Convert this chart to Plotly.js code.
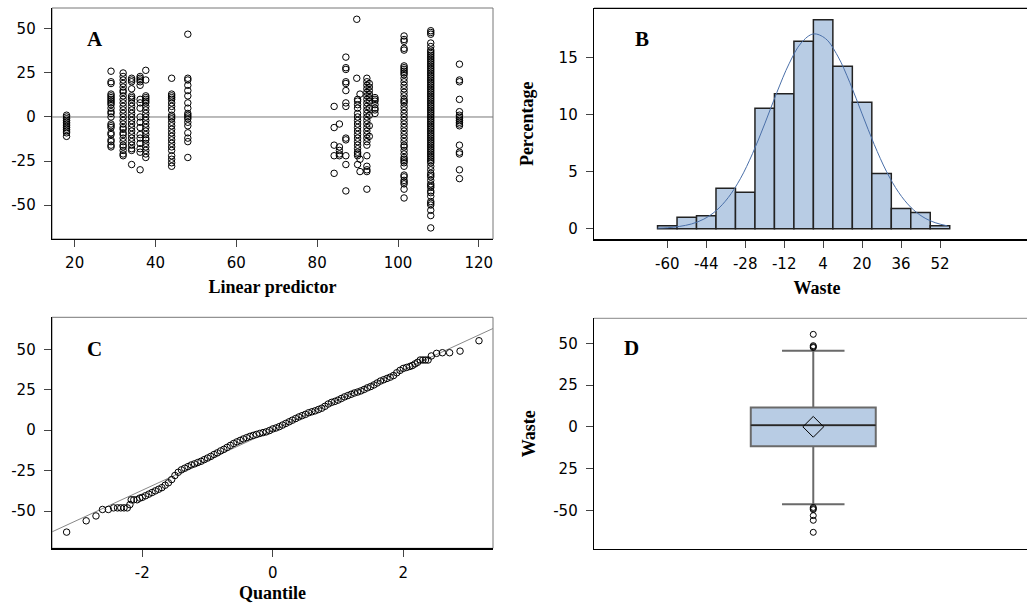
<!DOCTYPE html>
<html>
<head>
<meta charset="utf-8">
<script src="https://cdn.plot.ly/plotly-3.0.1.min.js"></script>
<style>
html,body{margin:0;padding:0;overflow:hidden;background:#fff;width:1027px;height:603px;}
#chart{width:1040px;height:603px;}
</style>
</head>
<body>
<div id="chart"></div>
<script>
// ---------- Panel A: residuals vs linear predictor ----------
const aColumnX = [18, 29, 32, 34.1, 36.2, 37.6, 44, 48, 84.2, 85.5, 87.1, 89.8, 90, 90.6, 92.3, 92.9, 94.3, 101.5, 108.1, 115.2];
const aColumnY = [
  [1, 0, -1, -2, -3, -4, -5, -6, -7, -8, -9, -11],
  [26, 20, 19, 13, 12, 11, 10, 9, 8, 7, 5, 3, 2, 0, -4, -5, -6, -9, -10, -13, -14, -16, -17],
  [25, 23, 21, 19, 17, 15, 14, 12, 10, 8, 6, 4, 2, 0, -2, -4, -6, -7, -9, -10, -12, -14, -16, -17, -19, -21, -22],
  [22, 21, 20, 16, 12, 11, 10, 8, 6, 4, 2, 0, -2, -4, -6, -8, -10, -12, -14, -16, -18, -19, -27],
  [23, 22, 21, 20, 18, 10, 8, 5, 0, -3, -6, -10, -12, -15, -18, -20, -30],
  [26.5, 21, 12, 11, 10, 9, 8, 6, 4, 2, 0, -2, -4, -6, -8, -10, -12, -13, -15, -17, -19, -21, -23],
  [22, 13, 12, 11, 10, 8, 6, 4, 1, 0, -1, -3, -5, -7, -9, -11, -13, -15, -17, -19, -22, -24, -26, -28],
  [47, 22, 21, 18, 15, 12, 8, 5, 2, 1, 0, -1, -3, -5, -9, -12, -14, -23],
  [6, -6, -16, -22, -32],
  [-4, -17, -19, -21, -22],
  [34, 28, 27, 20, 19, 15, 8, 6, -12, -13, -22, -27, -42],
  [55.5, 22],
  [10, 9, 7, 5, 2, 0, -2, -4, -6, -8, -10, -12, -14, -16, -18, -20, -21, -22, -27],
  [13, -24, -31],
  [22, 20, 18, 16, 14, 12, 10, 8, 6, 4, 2, 0, -2, -4, -6, -8, -10, -12, -14, -16, -22, -28, -30, -31, -41],
  [19, 17, 15, 13, 11, 9, 5, 1, -5, -11],
  [11, 10, 9, 7, 5, 4, 2],
  [46, 44, 43, 39, 38, 29, 28, 27, 26, 25, 24, 22, 20, 18, 16, 14, 12, 10, 9, 8, 6, 4, 2, 0, -2, -4, -6, -8, -10, -12, -14, -16, -17, -19, -21, -23, -24, -25, -26, -28, -33, -34, -36, -37, -38, -41, -46],
  [49, 48, 47, 42, 40, 38, 37, 36, 35, 34, 33, 32, 31, 30, 29, 28, 27, 26, 25, 24, 23, 22, 21, 20, 19, 18, 17, 16, 15, 14, 13, 12, 11, 10, 9, 8, 7, 6, 5, 4, 3, 2, 1, 0, -1, -2, -3, -4, -5, -6, -7, -8, -9, -10, -11, -12, -13, -14, -15, -16, -17, -18, -19, -20, -21, -22, -23, -24, -25, -26, -28, -30, -32, -33, -34, -36, -38, -39, -40, -42, -43, -45, -48, -49, -50, -53, -56, -63],
  [30, 21, 20, 10, 3, 1, 0, -1, -2, -3, -4, -5, -16, -20, -21, -30, -35]
];
const aXTicks = [20, 40, 60, 80, 100, 120];
const yTicks50 = [50, 25, 0, -25, -50];

// ---------- Panel B: histogram of waste (percentage) ----------
const histMid = [-60, -52, -44, -36, -28, -20, -12, -4, 4, 12, 20, 28, 36, 44, 52];
const histPct = [0.26, 1.0, 1.14, 3.54, 3.19, 10.56, 11.84, 16.43, 18.33, 14.24, 11.08, 4.85, 1.78, 1.43, 0.26];
const histBinWidth = 8;
const histTicks = [-60, -44, -28, -12, 4, 20, 36, 52];
const pctTicks = [0, 5, 10, 15];
const curveX = [-64, -60, -55, -50, -45, -40, -35, -30, -25, -20, -15, -10, -5, 0, 5, 10, 15, 20, 25, 30, 35, 40, 45, 50, 55];
const curveY = [0.05, 0.08, 0.2, 0.42, 0.84, 1.57, 2.72, 4.38, 6.58, 9.19, 11.95, 14.46, 16.3, 17.08, 16.67, 15.14, 12.8, 10.07, 7.38, 5.03, 3.19, 1.88, 1.03, 0.53, 0.25];

// ---------- Panel C: normal QQ plot ----------
const qqX = [-3.16, -2.86, -2.71, -2.61, -2.52, -2.44, -2.38, -2.33, -2.28, -2.23, -2.19, -2.17, -2.13, -2.08, -2.04,
  -2.00, -1.95, -1.90, -1.85, -1.80, -1.75, -1.70, -1.65, -1.60, -1.55, -1.50, -1.45, -1.40, -1.35, -1.30, -1.25, -1.20, -1.15, -1.10, -1.05,
  -1.00, -0.95, -0.90, -0.85, -0.80, -0.75, -0.70, -0.65, -0.60, -0.55, -0.50, -0.45, -0.40, -0.35, -0.30, -0.25, -0.20, -0.15, -0.10, -0.05,
  0.00, 0.05, 0.10, 0.15, 0.20, 0.25, 0.30, 0.35, 0.40, 0.45, 0.50, 0.55, 0.60, 0.65, 0.70, 0.75, 0.80, 0.85, 0.90, 0.95,
  1.00, 1.05, 1.10, 1.15, 1.20, 1.25, 1.30, 1.35, 1.40, 1.45, 1.50, 1.55, 1.60, 1.65, 1.70, 1.75, 1.80, 1.85, 1.90, 1.95,
  2.00, 2.05, 2.10, 2.14, 2.18, 2.22, 2.26, 2.30, 2.34, 2.38, 2.43, 2.51, 2.60, 2.71, 2.87, 3.16];
const qqY = [-63, -56, -53, -49, -49, -48, -48, -48, -48, -48, -46, -43, -43, -43, -42,
  -41.5, -40.5, -39.5, -38.5, -37.5, -36.5, -35.5, -34, -32.5, -30.5, -28, -26, -24.5, -23.5, -22.5, -21.5, -20.8, -20, -19.2, -18.2,
  -17.2, -16.2, -15, -14, -12.8, -11.8, -10.6, -9.4, -8.2, -7.2, -6.3, -5.4, -4.6, -3.8, -3.2, -2.6, -2, -1.5, -1, -0.2,
  0.8, 1.4, 2.2, 3.2, 4.2, 5.2, 6.2, 7.2, 8.2, 9, 9.8, 10.8, 11.4, 12, 12.8, 13.6, 14.8, 16.2, 17.2, 17.8,
  18.6, 19.6, 20.6, 21.4, 22.2, 23, 23.6, 24.3, 25.2, 26.2, 27, 28, 29.2, 30.4, 31.2, 32, 32.8, 33.8, 35.5, 37,
  38.2, 38.8, 39.4, 40, 41, 42, 43.4, 43.4, 43.4, 43.4, 45.9, 47.5, 47.9, 47.9, 48.9, 55.3];
const qqIntercept = 0.1;
const qqSlope = 18.6;
const qqRange = [-3.384, 3.375];
const qqTicks = [-2, 0, 2];

// ---------- Panel D: box plot ----------
const boxQ1 = -11.6, boxMedian = 1.0, boxQ3 = 11.6;
const boxLowerWhisker = -46.4, boxUpperWhisker = 45.6;
const boxMean = 0;
const boxOutliers = [55.4, 48.6, 48.0, 47.5, -48.3, -49.0, -49.6, -53.2, -56.0, -63.2];
const boxDTicks = [50, 25, 0, -25, -50];
const boxDTickText = ["50", "25", "0", "25", "-50"];
const boxWidth = 0.57;

// ---------- build traces ----------
const aX = [], aY = [];
aColumnX.forEach((cx, i) => aColumnY[i].forEach(v => { aX.push(cx); aY.push(v); }));

const openCircle = {symbol: 'circle-open', size: 6.5, color: '#000', line: {width: 1, color: '#000'}};

const traces = [
  {type: 'scatter', mode: 'markers', x: aX, y: aY, xaxis: 'x', yaxis: 'y', marker: openCircle},
  {type: 'bar', x: histMid, y: histPct, width: histBinWidth, xaxis: 'x2', yaxis: 'y2',
   marker: {color: '#b8cce4', line: {color: '#222', width: 1.5}}},
  {type: 'scatter', mode: 'lines', x: curveX, y: curveY, xaxis: 'x2', yaxis: 'y2',
   line: {color: '#4a6fa8', width: 1, shape: 'spline'}},
  {type: 'scatter', mode: 'lines', x: qqRange, y: qqRange.map(q => qqIntercept + qqSlope * q), xaxis: 'x3', yaxis: 'y3',
   line: {color: '#888', width: 1}},
  {type: 'scatter', mode: 'markers', x: qqX, y: qqY, xaxis: 'x3', yaxis: 'y3', marker: openCircle},
  {type: 'box', x: [0], q1: [boxQ1], median: [boxMedian], q3: [boxQ3],
   lowerfence: [boxLowerWhisker], upperfence: [boxUpperWhisker], width: boxWidth,
   xaxis: 'x4', yaxis: 'y4', boxpoints: false, whiskerwidth: 0.5,
   fillcolor: '#b8cce4', line: {color: '#6a6a6a', width: 2}},
  {type: 'scatter', mode: 'lines', x: [-boxWidth / 2, boxWidth / 2], y: [boxMedian, boxMedian], xaxis: 'x4', yaxis: 'y4',
   line: {color: '#000', width: 1}},
  {type: 'scatter', mode: 'markers', x: boxOutliers.map(() => 0), y: boxOutliers, xaxis: 'x4', yaxis: 'y4',
   marker: {symbol: 'circle-open', size: 6, color: '#000', line: {width: 1, color: '#000'}}},
  {type: 'scatter', mode: 'markers', x: [0], y: [boxMean], xaxis: 'x4', yaxis: 'y4',
   marker: {symbol: 'diamond-open', size: 16, color: '#000', line: {width: 1, color: '#000'}}}
];

const tickFont = {family: 'DejaVu Sans, Liberation Sans, Arial, sans-serif', size: 15, color: '#000'};
const titleFont = {family: 'Liberation Serif, Times New Roman, serif', size: 18, color: '#000', weight: 'bold'};
const letterFont = {family: 'Liberation Serif, Times New Roman, serif', size: 21, color: '#000', weight: 'bold'};

const axBase = {showgrid: false, zeroline: false, showline: true, linecolor: '#000', linewidth: 1.3,
  ticks: 'outside', ticklen: 7, tickcolor: '#444', tickwidth: 1, tickfont: tickFont, fixedrange: true};
const lab = v => String(v); // plain hyphen-minus labels, as in the original

// The figure is slightly wider than the window so the right-hand panels run off the edge, as in the original.
const W = 1040, H = 603;
const px = v => v / W, py = v => 1 - v / H;

const layout = {
  width: W, height: H, margin: {l: 0, r: 0, t: 0, b: 0}, showlegend: false,
  paper_bgcolor: '#fff', plot_bgcolor: 'rgba(0,0,0,0)', bargap: 0,
  xaxis: Object.assign({}, axBase, {domain: [px(52), px(493)], range: [14.4, 123.5], anchor: 'y',
    tickvals: aXTicks, ticktext: aXTicks.map(lab), ticklabelstandoff: 3,
    title: {text: 'Linear predictor', font: titleFont, standoff: 9}}),
  yaxis: Object.assign({}, axBase, {domain: [py(239), py(8)], range: [-69.3, 61.9], anchor: 'x',
    tickvals: yTicks50, ticktext: yTicks50.map(lab), ticklabelstandoff: 5}),
  xaxis2: Object.assign({}, axBase, {domain: [px(594), 1], range: [-90.1, 93.07], anchor: 'y2',
    tickvals: histTicks, ticktext: histTicks.map(lab), ticklabelstandoff: 3,
    title: {text: 'Waste', font: titleFont, standoff: 9}}),
  yaxis2: Object.assign({}, axBase, {domain: [py(239.3), py(8.3)], range: [-0.93, 19.33], anchor: 'x2',
    tickvals: pctTicks, ticktext: pctTicks.map(lab), ticklabelstandoff: 5,
    title: {text: 'Percentage', font: titleFont, standoff: 20}}),
  xaxis3: Object.assign({}, axBase, {domain: [px(52), px(493)], range: qqRange, anchor: 'y3',
    tickvals: qqTicks, ticktext: qqTicks.map(lab), ticklabelstandoff: 3,
    title: {text: 'Quantile', font: titleFont, standoff: 9}}),
  yaxis3: Object.assign({}, axBase, {domain: [py(548.3), py(317.3)], range: [-73.0, 69.8], anchor: 'x3',
    tickvals: yTicks50, ticktext: yTicks50.map(lab), ticklabelstandoff: 5}),
  xaxis4: Object.assign({}, axBase, {domain: [px(594), 1], range: [-1, 1.034], anchor: 'y4',
    ticks: '', showticklabels: false}),
  yaxis4: Object.assign({}, axBase, {domain: [py(549), py(318.3)], range: [-73.2, 65.0], anchor: 'x4',
    tickvals: boxDTicks, ticktext: boxDTickText, ticklabelstandoff: 5,
    title: {text: 'Waste', font: titleFont, standoff: 13}}),
  shapes: [
    {type: 'rect', xref: 'x domain', yref: 'y domain', x0: 0, x1: 1, y0: 0, y1: 1, line: {color: '#777', width: 1}, layer: 'below'},
    {type: 'line', xref: 'x domain', yref: 'y', x0: 0, x1: 1, y0: 0, y1: 0, line: {color: '#777', width: 1}, layer: 'below'},
    {type: 'line', xref: 'x2 domain', yref: 'y2 domain', x0: 0, x1: 1, y0: 1, y1: 1, line: {color: '#000', width: 1.3}},
    {type: 'rect', xref: 'x3 domain', yref: 'y3 domain', x0: 0, x1: 1, y0: 0, y1: 1, line: {color: '#777', width: 1}, layer: 'below'},
    {type: 'line', xref: 'x4 domain', yref: 'y4 domain', x0: 0, x1: 1, y0: 1, y1: 1, line: {color: '#888', width: 1}}
  ],
  annotations: [
    {text: 'A', xref: 'paper', yref: 'paper', x: px(95), y: py(39), xanchor: 'center', yanchor: 'middle', showarrow: false, font: letterFont},
    {text: 'B', xref: 'paper', yref: 'paper', x: px(642), y: py(39), xanchor: 'center', yanchor: 'middle', showarrow: false, font: letterFont},
    {text: 'C', xref: 'paper', yref: 'paper', x: px(94), y: py(349), xanchor: 'center', yanchor: 'middle', showarrow: false, font: letterFont},
    {text: 'D', xref: 'paper', yref: 'paper', x: px(631), y: py(348), xanchor: 'center', yanchor: 'middle', showarrow: false, font: letterFont}
  ]
};

Plotly.newPlot('chart', traces, layout, {displayModeBar: false, staticPlot: true});
</script>
</body>
</html>
